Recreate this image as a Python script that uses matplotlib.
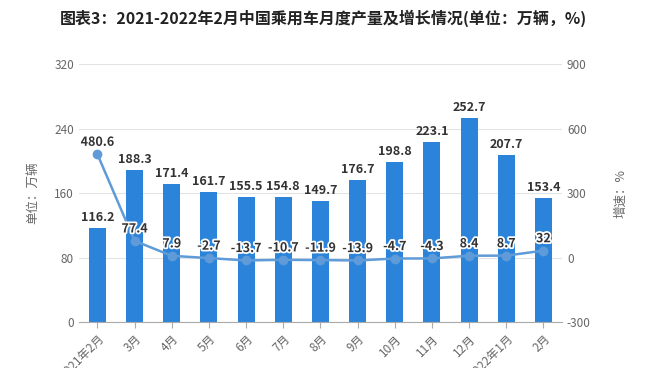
import matplotlib
matplotlib.use("Agg")
import matplotlib.pyplot as plt
import matplotlib.patheffects as pe

plt.rcParams['font.family'] = ['Noto Sans CJK SC', 'DejaVu Sans']
plt.rcParams['axes.unicode_minus'] = False

categories = ['2021年2月', '3月', '4月', '5月', '6月', '7月', '8月', '9月', '10月', '11月', '12月', '2022年1月', '2月']
production = [116.2, 188.3, 171.4, 161.7, 155.5, 154.8, 149.7, 176.7, 198.8, 223.1, 252.7, 207.7, 153.4]
growth = [480.6, 77.4, 7.9, -2.7, -13.7, -10.7, -11.9, -13.9, -4.7, -4.3, 8.4, 8.7, 32]
left_ticks = [0, 80, 160, 240, 320]
right_ticks = [-300, 0, 300, 600, 900]

bar_color = '#2b84d9'
line_color = '#5f9bd8'
text_gray = '#666666'

fig = plt.figure(figsize=(6.46, 3.68), dpi=100)
ax = fig.add_axes([0.122, 0.125, 0.748, 0.701])
ax2 = ax.twinx()

x = list(range(len(categories)))
ax.bar(x, production, width=0.46, color=bar_color, zorder=2)
ax.set_ylim(0, 320)
ax.set_yticks(left_ticks)
ax.set_xlim(-0.5, len(categories) - 0.5)
ax.grid(axis='y', color='#e3e3e3', linewidth=0.8, zorder=0)
ax.set_axisbelow(True)
for s in ['top', 'right', 'left']:
    ax.spines[s].set_visible(False)
ax.spines['bottom'].set_color('#aaaaaa')
ax.tick_params(axis='y', length=0, colors=text_gray, labelsize=8.5)
ax.tick_params(axis='x', length=4, color='#aaaaaa', colors=text_gray, labelsize=8.5)
ax.set_xticks(x)
ax.set_xticklabels(categories, rotation=45, ha='right', rotation_mode='anchor')
ax.set_ylabel('单位：万辆', color=text_gray, fontsize=9, labelpad=11)

for xi, v in zip(x, production):
    ax.text(xi, v + 5, f'{v}', ha='center', va='bottom', fontsize=9,
            fontweight='bold', color='#333333', zorder=5)

ax2.plot(x, growth, color=line_color, linewidth=1.8, marker='o', markersize=6, zorder=4)
ax2.set_ylim(-300, 900)
ax2.set_yticks(right_ticks)
for s in ['top', 'right', 'left', 'bottom']:
    ax2.spines[s].set_visible(False)
ax2.tick_params(axis='y', length=0, colors=text_gray, labelsize=8.5)
ax2.set_ylabel('增速：%', color=text_gray, fontsize=9, rotation=90, labelpad=17)
for xi, v in zip(x, growth):
    ax2.text(xi, v + 25, f'{v:g}', ha='center', va='bottom', fontsize=9,
             fontweight='bold', color='#333333', zorder=6,
             path_effects=[pe.withStroke(linewidth=2.5, foreground='white')])

fig.text(0.5, 0.95, '图表3：2021-2022年2月中国乘用车月度产量及增长情况(单位：万辆，%)',
         ha='center', va='center', fontsize=11.5, fontweight='bold', color='#222222')

fig.savefig('out.png', dpi=100)
